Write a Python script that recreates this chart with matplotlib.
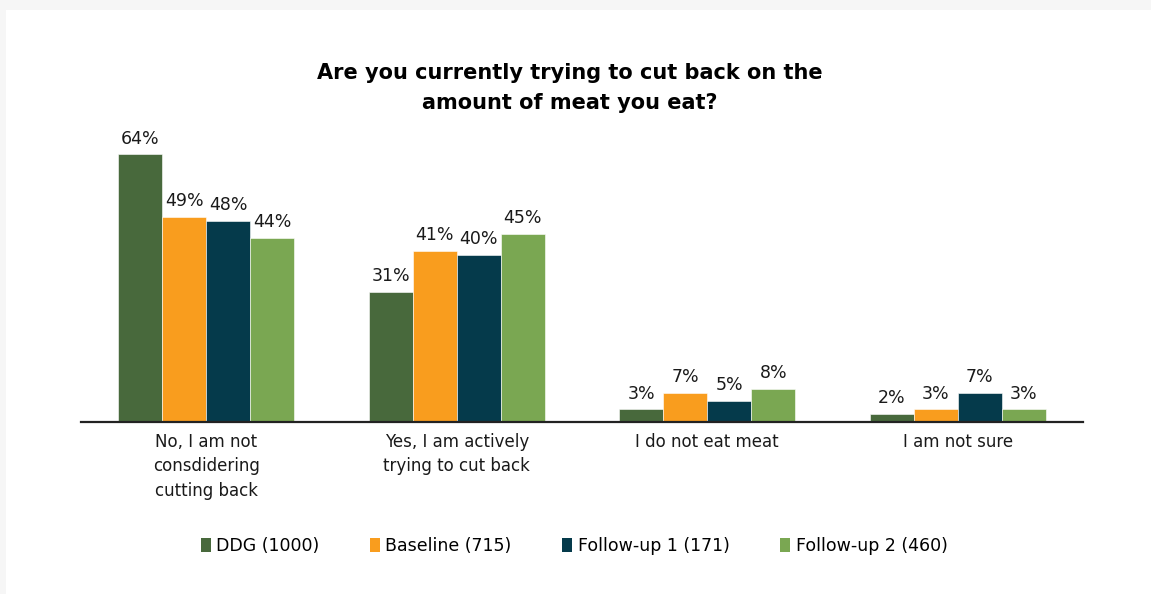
import matplotlib
matplotlib.use("Agg")
import matplotlib.pyplot as plt
from matplotlib.patches import Patch, Rectangle
import numpy as np

# answers and survey waves
categories = ["No, I am not\nconsdidering\ncutting back",
              "Yes, I am actively\ntrying to cut back",
              "I do not eat meat",
              "I am not sure"]
series_names = ["DDG (1000)", "Baseline (715)", "Follow-up 1 (171)", "Follow-up 2 (460)"]
ddg = [64, 31, 3, 2]
baseline = [49, 41, 7, 3]
followup1 = [48, 40, 5, 7]
followup2 = [44, 45, 8, 3]
colors = ["#48693c", "#f99d1e", "#053a4b", "#7aa752"]

title = "Are you currently trying to cut back on the\namount of meat you eat?"

fig = plt.figure(figsize=(11.51, 5.94), dpi=100)
fig.patch.set_facecolor("white")
# light grey frame around the white card (top and left strips)
fig.patches.append(Rectangle((0, 0), 1, 1, transform=fig.transFigure,
                             facecolor="#f6f6f6", edgecolor="none", zorder=-2))
fig.patches.append(Rectangle((6 / 1151, 0), 1, 1 - 10 / 594, transform=fig.transFigure,
                             facecolor="white", edgecolor="none", zorder=-1))

ax = fig.add_axes([81 / 1151, 172 / 594, 1002 / 1151, 292.6 / 594])
ax.set_facecolor("none")

x = np.arange(len(categories))
width = 0.176
all_series = [ddg, baseline, followup1, followup2]
for i, vals in enumerate(all_series):
    pos = x + (i - 1.5) * width
    bars = ax.bar(pos, vals, width=width, color=colors[i], label=series_names[i],
                  edgecolor="white", linewidth=0.4)
    for b, v in zip(bars, vals):
        ax.annotate(f"{v}%", (b.get_x() + b.get_width() / 2, v),
                    xytext=(0, 5), textcoords="offset points",
                    ha="center", va="bottom", fontsize=12.5, family="DejaVu Sans",
                    color="#1a1a1a")

ax.set_xlim(-0.5, 3.5)
ax.set_ylim(0, 70)
for s in ["top", "right", "left"]:
    ax.spines[s].set_visible(False)
ax.spines["bottom"].set_color("#222222")
ax.spines["bottom"].set_linewidth(1.6)
ax.set_yticks([])
ax.set_xticks(x)
ax.set_xticklabels(categories, fontsize=12, family="DejaVu Sans", color="#1a1a1a",
                   linespacing=1.45, va="top")
ax.tick_params(axis="x", length=0, pad=8)

fig.text(570 / 1151, 1 - 88 / 594, title, ha="center", va="center",
         fontsize=15, fontweight="bold", family="DejaVu Sans", linespacing=1.6)

handles = [Patch(facecolor=c, edgecolor="none") for c in colors]
leg = fig.legend(handles, series_names, loc="center", bbox_to_anchor=(574 / 1151, 1 - 546 / 594),
                 ncol=4, frameon=False, handlelength=0.6, handleheight=0.8,
                 handletextpad=0.3, columnspacing=2.9,
                 prop={"family": "DejaVu Sans", "size": 12.5})

fig.savefig("out.png", dpi=100)
